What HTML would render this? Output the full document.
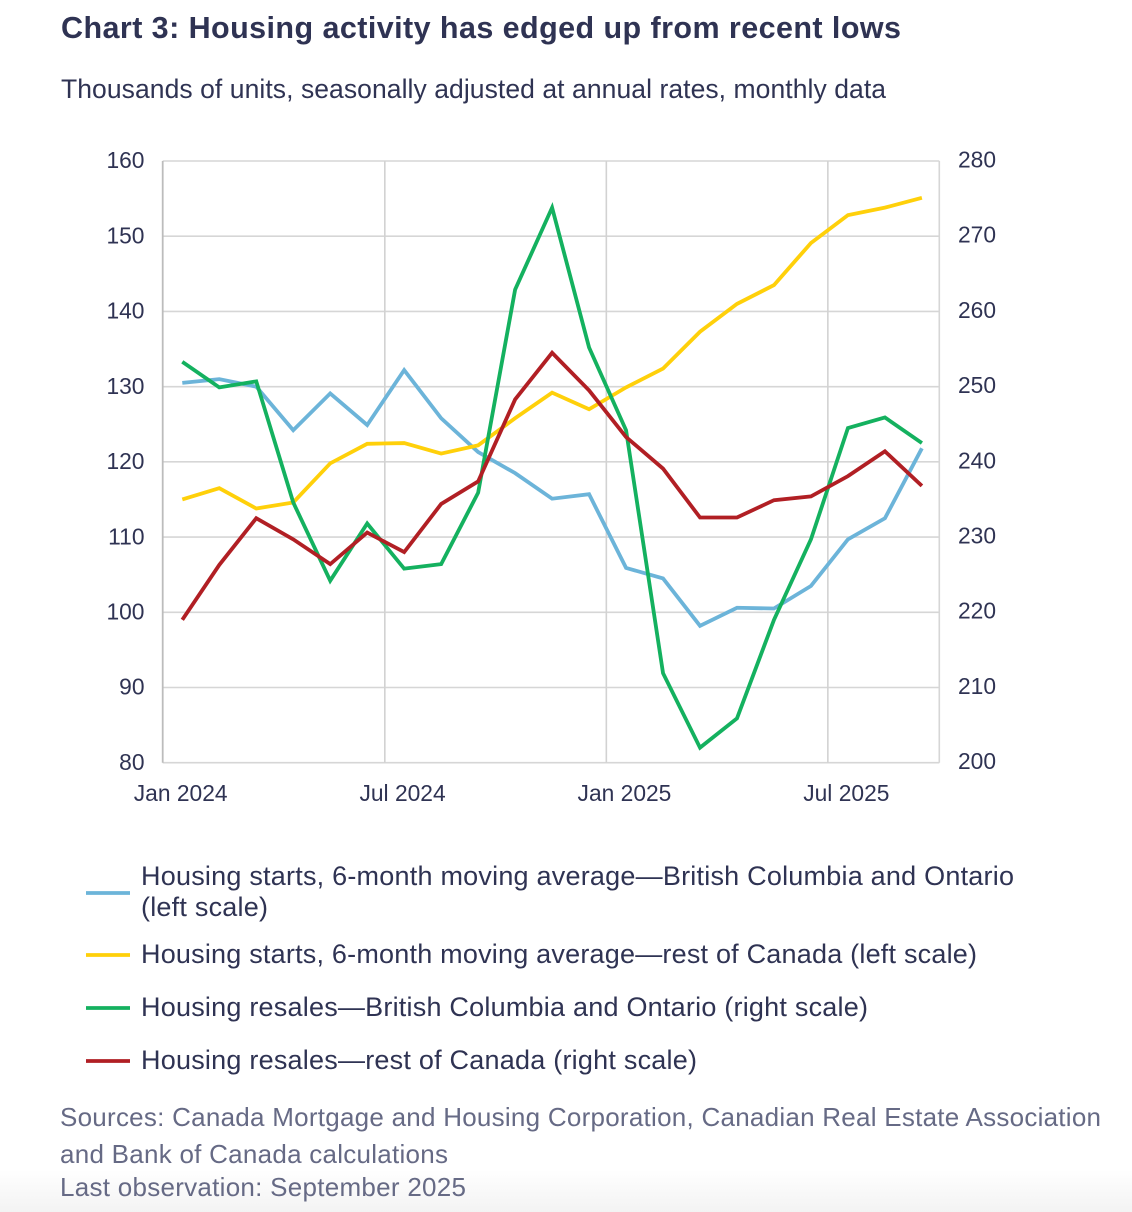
<!DOCTYPE html>
<html lang="en">
<head>
<meta charset="utf-8">
<title>Chart 3: Housing activity has edged up from recent lows</title>
<style>
html,body{margin:0;padding:0;background:#fff;width:1132px;height:1212px;overflow:hidden}
svg{display:block;font-family:"Liberation Sans",sans-serif}
.series{fill:none;stroke-width:3.8;stroke-linejoin:miter;stroke-linecap:butt}
.tick{font-size:22.8px;fill:#2f3353}
.legend{font-size:27px;fill:#2f3353}
.note{font-size:26px;fill:#666a85}
</style>
</head>
<body>
<svg id="chart" width="1132" height="1212" viewBox="0 0 1132 1212" xmlns="http://www.w3.org/2000/svg">
  <defs>
    <linearGradient id="fade" x1="0" y1="0" x2="0" y2="1">
      <stop offset="0" stop-color="#fff"/>
      <stop offset="1" stop-color="#f3f3f3"/>
    </linearGradient>
  </defs>
  <rect x="0" y="1170" width="1132" height="42" fill="url(#fade)"/>
  <text x="61" y="38" font-size="30.5" font-weight="700" fill="#2f3353" textLength="840">Chart 3: Housing activity has edged up from recent lows</text>
  <text x="61" y="98" font-size="26.5" fill="#2f3353" textLength="825">Thousands of units, seasonally adjusted at annual rates, monthly data</text>

  <g id="grid"></g>
  <g id="axis-left"></g>
  <g id="axis-right"></g>
  <g id="axis-x"></g>
  <g id="marks"></g>

  <g>
    <g>
      <line x1="86" x2="130" y1="893" y2="893" stroke="#6cb4d9" stroke-width="3.8"/>
      <text class="legend" x="141" y="885" textLength="873">Housing starts, 6-month moving average—British Columbia and Ontario</text>
      <text class="legend" x="141" y="916" textLength="127">(left scale)</text>
    </g>
    <g>
      <line x1="86" x2="130" y1="955" y2="955" stroke="#ffd00a" stroke-width="3.8"/>
      <text class="legend" x="141" y="963" textLength="836">Housing starts, 6-month moving average—rest of Canada (left scale)</text>
    </g>
    <g>
      <line x1="86" x2="130" y1="1008" y2="1008" stroke="#14b15f" stroke-width="3.8"/>
      <text class="legend" x="141" y="1016" textLength="727">Housing resales—British Columbia and Ontario (right scale)</text>
    </g>
    <g>
      <line x1="86" x2="130" y1="1061" y2="1061" stroke="#b11f24" stroke-width="3.8"/>
      <text class="legend" x="141" y="1069" textLength="556">Housing resales—rest of Canada (right scale)</text>
    </g>
  </g>

  <g>
    <text class="note" x="60" y="1126" textLength="1041">Sources: Canada Mortgage and Housing Corporation, Canadian Real Estate Association</text>
    <text class="note" x="60" y="1163" textLength="388">and Bank of Canada calculations</text>
    <text class="note" x="60" y="1196" textLength="406">Last observation: September 2025</text>
  </g>
</svg>
<script>
const startsBcOntario = [130.5,131,130,124.2,129.1,124.9,132.2,125.8,121.3,118.5,115.1,115.7,105.9,104.5,98.2,100.6,100.5,103.5,109.7,112.5,121.8];
const startsRest = [115,116.5,113.8,114.6,119.8,122.4,122.5,121.1,122.2,125.8,129.2,127,129.9,132.4,137.3,141,143.5,149.1,152.8,153.8,155.1];
const resalesBcOntario = [253.3,249.9,250.7,234.6,224.2,231.8,225.8,226.4,235.9,262.9,273.8,255.2,244.2,211.9,202,205.9,219,229.7,244.5,245.9,242.5];
const resalesRest = [219,226.3,232.5,229.7,226.4,230.6,228,234.4,237.4,248.3,254.5,249.5,243.3,239.1,232.6,232.6,234.9,235.4,238.1,241.4,236.8];
const leftTicks = [80,90,100,110,120,130,140,150,160];
const rightTicks = [200,210,220,230,240,250,260,270,280];
const xTickMonths = [0,6,12,18];
const xTickLabels = ["Jan 2024","Jul 2024","Jan 2025","Jul 2025"];
const gridMonths = [6,12,18];

const NS = "http://www.w3.org/2000/svg";
const plotLeft = 162.7, plotRight = 939.3, plotTop = 161, plotBottom = 762.7;
function xScale(i){ return plotLeft + (i + 0.53) * 36.98; }
function xEdge(i){ return plotLeft + i * 36.92 + 0.6; }
function yLeft(v){ return plotBottom - (v - 80) / 80 * (plotBottom - plotTop); }
function yRight(v){ return plotBottom - (v - 200) / 80 * (plotBottom - plotTop); }
function make(tag, attrs, parent){
  const el = document.createElementNS(NS, tag);
  for (const k in attrs) el.setAttribute(k, attrs[k]);
  parent.appendChild(el);
  return el;
}

const grid = document.getElementById("grid");
leftTicks.forEach(function(v){
  const l = make("line", {x1: plotLeft, x2: plotRight, y1: yLeft(v), y2: yLeft(v), stroke: "#d6d6d6", "stroke-width": 1.6}, grid);
  
  
});
gridMonths.forEach(function(m){
  const l = make("line", {x1: xEdge(m), x2: xEdge(m), y1: plotTop, y2: plotBottom, stroke: "#d2d2d2", "stroke-width": 1.6}, grid);
  
  
});
const frameLeft = make("line", {x1: plotLeft, x2: plotLeft, y1: plotTop, y2: plotBottom, stroke: "#bcbcbc", "stroke-width": 1.8}, grid);


const frameRight = make("line", {x1: plotRight, x2: plotRight, y1: plotTop, y2: plotBottom, stroke: "#d6d6d6", "stroke-width": 1.6}, grid);



const axisLeft = document.getElementById("axis-left");
leftTicks.forEach(function(v){
  const t = make("text", {x: 144.5, y: yLeft(v) + 7.2, "text-anchor": "end", class: "tick"}, axisLeft);
  
  
  t.textContent = v;
});
const axisRight = document.getElementById("axis-right");
rightTicks.forEach(function(v){
  const t = make("text", {x: 958, y: yRight(v) + 6.4, class: "tick"}, axisRight);
  
  
  t.textContent = v;
});
const axisX = document.getElementById("axis-x");
xTickMonths.forEach(function(m, i){
  const t = make("text", {x: xScale(m) - 1.6, y: 801, "text-anchor": "middle", class: "tick"}, axisX);
  
  
  t.textContent = xTickLabels[i];
});

const marks = document.getElementById("marks");
function drawSeries(values, scale, color, name){
  const pts = values.map(function(v, i){ return xScale(i).toFixed(2) + "," + scale(v).toFixed(2); }).join(" ");
  const p = make("polyline", {points: pts, stroke: color, class: "series"}, marks);
  
  
}
drawSeries(startsBcOntario, yLeft, "#6cb4d9", "line-starts-bc-ontario");
drawSeries(startsRest, yLeft, "#ffd00a", "line-starts-rest-of-canada");
drawSeries(resalesBcOntario, yRight, "#14b15f", "line-resales-bc-ontario");
drawSeries(resalesRest, yRight, "#b11f24", "line-resales-rest-of-canada");
</script>
</body>
</html>
